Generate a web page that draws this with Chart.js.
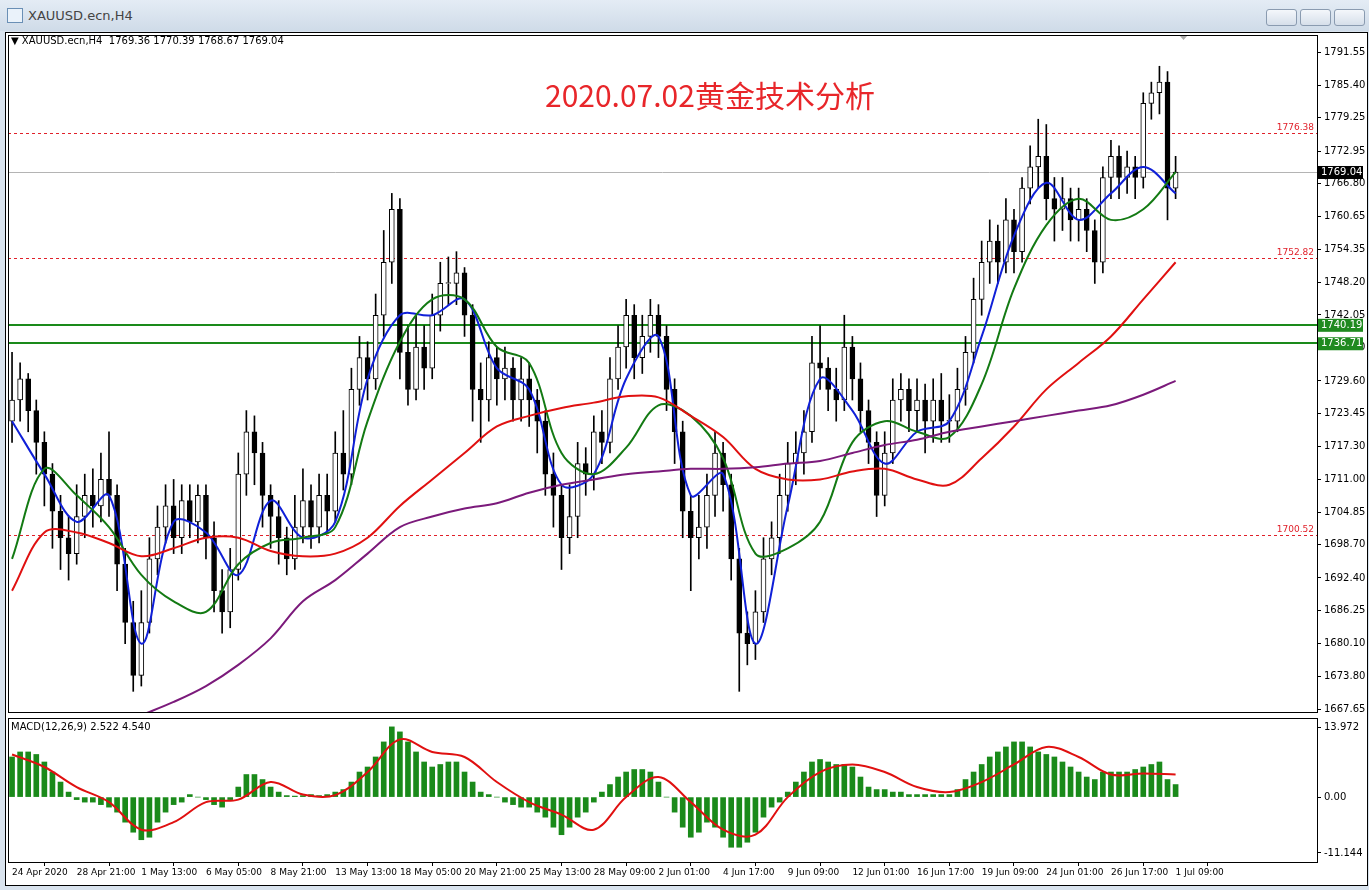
<!DOCTYPE html>
<html><head><meta charset="utf-8">
<script src="https://cdn.jsdelivr.net/npm/chart.js@4.4.1/dist/chart.umd.min.js"></script>
<style>
body{margin:0;width:1369px;height:890px;overflow:hidden;background:#d9e3ee;font-family:Tahoma,"DejaVu Sans",sans-serif;position:relative}
#bar{position:absolute;left:0;top:0;width:1369px;height:31px;background:linear-gradient(#e4ecf5,#cfdbe8)}
#ttl{position:absolute;left:28px;top:8px;font-size:13px;color:#444}
#ico{position:absolute;left:7px;top:8px;width:14px;height:13px;border:1px solid #6a8fb5;background:#eaf2fa}
.btn{position:absolute;top:9px;width:29px;height:15px;border:1px solid #8a9bb0;border-radius:3px;background:linear-gradient(#f4f7fb,#d6dfea)}
#frame{position:absolute;left:5px;top:32px;width:1361px;height:852px;background:#fff;border:1px solid #000}
canvas{position:absolute;left:0}
#title{position:absolute;left:545px;top:72px;font-size:30px;color:#e8262a;font-family:"Noto Sans CJK SC","Noto Sans",sans-serif}
.lbl{position:absolute;font-size:10px;color:#000;font-family:Tahoma,"DejaVu Sans",sans-serif}
</style></head><body>
<div id="bar"><div id="ico"></div><div id="ttl">XAUUSD.ecn,H4</div>
<div class="btn" style="left:1266px"></div><div class="btn" style="left:1300px"></div><div class="btn" style="left:1334px"></div></div>
<div id="frame"></div>
<canvas id="main" width="1369" height="721" style="top:0"></canvas>
<canvas id="macd" width="1369" height="175" style="top:709px"></canvas>
<div class="lbl" style="left:11px;top:35px">▼ XAUUSD.ecn,H4&nbsp; 1769.36 1770.39 1768.67 1769.04</div>
<div class="lbl" style="left:11px;top:721px">MACD(12,26,9) 2.522 4.540</div>
<div id="title">2020.07.02黄金技术分析</div>
<script>
const closes=[1726,1730,1724,1718,1712,1705,1700,1697,1704,1708,1706,1711,1708,1695,1684,1674,1684,1696,1702,1706,1700,1707,1703,1708,1700,1690,1686,1694,1712,1720,1716,1708,1704,1700,1696,1702,1707,1702,1708,1705,1716,1712,1728,1734,1730,1742,1752,1762,1735,1728,1736,1732,1742,1748,1748,1750,1742,1728,1726,1734,1730,1732,1726,1730,1726,1722,1712,1708,1700,1704,1714,1712,1720,1718,1730,1736,1742,1734,1738,1742,1738,1728,1720,1705,1700,1702,1708,1716,1710,1696,1682,1680,1686,1696,1700,1708,1714,1716,1720,1733,1732,1728,1726,1736,1730,1724,1718,1708,1716,1726,1728,1724,1726,1722,1726,1722,1722,1728,1735,1745,1752,1756,1752,1760,1754,1766,1770,1772,1764,1762,1764,1760,1762,1758,1752,1768,1772,1768,1770,1768,1782,1784,1786,1766,1769];
const firstOpen=1722;
const highs=[1735,1733,1731,1726,1720,1714,1708,1704,1710,1712,1713,1716,1720,1710,1698,1688,1690,1700,1706,1710,1711,1710,1710,1710,1710,1703,1694,1698,1716,1724,1723,1718,1710,1707,1702,1708,1713,1710,1712,1712,1720,1724,1732,1738,1737,1746,1758,1765,1764,1740,1742,1740,1746,1752,1753,1754,1751,1744,1733,1737,1736,1736,1734,1734,1733,1728,1724,1716,1710,1710,1718,1717,1723,1724,1734,1740,1745,1744,1742,1745,1744,1740,1730,1722,1708,1708,1712,1720,1718,1712,1698,1686,1690,1700,1703,1712,1718,1720,1724,1738,1740,1734,1732,1742,1738,1733,1726,1720,1720,1730,1731,1730,1730,1729,1730,1731,1727,1732,1738,1749,1756,1760,1759,1764,1762,1768,1774,1779,1778,1768,1768,1766,1766,1764,1760,1770,1775,1774,1773,1772,1784,1786,1789,1788,1772];
const lows=[1718,1722,1720,1712,1706,1698,1694,1692,1695,1700,1702,1703,1704,1690,1680,1671,1672,1682,1693,1699,1697,1697,1700,1699,1696,1686,1682,1683,1692,1708,1710,1702,1698,1695,1693,1694,1699,1698,1699,1701,1703,1709,1710,1725,1726,1728,1738,1748,1730,1725,1726,1728,1730,1739,1744,1744,1738,1722,1718,1722,1725,1726,1722,1722,1721,1716,1708,1702,1694,1697,1700,1708,1709,1714,1716,1728,1732,1730,1731,1735,1734,1724,1714,1700,1690,1696,1698,1704,1705,1692,1671,1676,1677,1684,1693,1697,1705,1710,1712,1718,1728,1724,1722,1724,1726,1720,1714,1704,1706,1714,1722,1720,1720,1716,1718,1718,1718,1720,1725,1733,1742,1748,1748,1750,1750,1752,1763,1766,1760,1756,1758,1756,1756,1754,1748,1750,1764,1764,1765,1764,1766,1779,1780,1760,1764];
const maIdx=[0,4,8,12,16,20,24,28,32,36,40,44,48,52,56,60,64,68,72,76,80,84,88,92,96,100,104,108,112,116,120,124,128,132,136,140,144];
const maBlue=[1722,1712,1703,1708,1680,1703,1701,1693,1707,1700,1703,1730,1742,1742,1745,1732,1728,1710,1712,1730,1738,1708,1712,1680,1706,1730,1724,1714,1720,1722,1738,1757,1767,1760,1765,1770,1765];
const maGreen=[1696,1713,1708,1702,1693,1688,1686,1695,1699,1700,1702,1722,1737,1745,1745,1736,1733,1716,1712,1717,1725,1723,1715,1697,1698,1703,1718,1722,1720,1719,1729,1747,1759,1764,1760,1762,1769];
const maRed=[1690,1701,1701,1699,1696.5,1698,1700,1700,1697.5,1696.5,1697,1700,1706,1711,1716,1721,1723,1724.5,1725.5,1726.7,1726.5,1723,1719,1713,1711,1711,1712.5,1713,1711,1710,1715,1721,1728,1733,1738,1745,1752];
const maPurple=[null,null,null,null,1666.5,1669,1672,1676,1681,1688,1692,1697,1702,1704,1705.5,1706.5,1708.5,1710,1711,1712,1712.5,1713,1713,1713.3,1714,1714.5,1716,1717.5,1718.5,1720,1721,1722,1723,1724,1725,1727,1729.6];
const macdHist=[8,9,9,8.5,7,5,3,1,-0.5,-1,-1,-1.5,-2,-3,-5,-7,-8.5,-8,-5,-3,-1.5,-1,0.5,0,-0.5,-1.5,-2,-0.5,2,4.5,4.5,3.5,2,1,0.3,0.2,0.3,0.5,0.3,0.5,1,1.5,3,5,6,8,11,14,13,11,9,7,6,6.5,7,7,5,3,1,0.5,0,-1,-1.5,-2,-2,-3,-4,-6,-7.5,-6,-4,-3,-1,1,2.5,4,5,5.5,5.5,5,3,0,-3,-6,-8,-7,-5,-6,-8,-10,-10,-9,-7,-4,-2,-1,1,3,5,7,7.5,7,6.5,6.5,6,4,2,1.5,1.5,1,1,0.5,0.5,0.5,0.5,0.5,0.5,1.5,3.5,5,6.5,8,9,10,11,11,10,9,8.5,8,7,6,5,4,3.5,5,5,5,5,5.5,6,6.5,7,3.5,2.5];
const macdSignal=[8.5,6,2,-1,-6.5,-5,-1,-0.5,3,0.5,0.4,5,11.5,9,8,3,-1,-3.5,-6.5,0,4,-1,-6.5,-7.5,0,5,6.5,5,2,1,3,6.5,10,8,4.5,4.7,4.5];
const priceTicks=[1791.55,1785.40,1779.25,1772.95,1766.80,1760.65,1754.35,1748.20,1742.05,1735.90,1729.60,1723.45,1717.30,1711.00,1704.85,1698.70,1692.40,1686.25,1680.10,1673.80,1667.65];
const redLevels=[1776.38,1752.82,1700.52];
const greenLevels=[1740.19,1736.71];
const lastPrice=1769.04;
const macdTicks=[13.972,0,-11.144];
const macdTickLabels=["13.972","0.00","-11.144"];
const xTickIdx=[0,8,16,24,32,40,48,56,64,72,80,88,96,104,112,120,128,136,144];
const xTickLabels=["24 Apr 2020","28 Apr 21:00","1 May 13:00","6 May 05:00","8 May 21:00","13 May 13:00","18 May 05:00","20 May 21:00","25 May 13:00","28 May 09:00","2 Jun 01:00","4 Jun 17:00","9 Jun 09:00","12 Jun 01:00","16 Jun 17:00","19 Jun 09:00","24 Jun 01:00","26 Jun 17:00","1 Jul 09:00"];

const opens=closes.map((c,i)=>i===0?firstOpen:closes[i-1]);
const XMIN=-0.5,XMAX=161.5;
const frame={id:'frame',afterDraw(c){const a=c.chartArea,x=c.ctx;x.save();x.strokeStyle='#000';x.lineWidth=1;x.strokeRect(a.left+0.5,a.top+0.5,a.right-a.left,a.bottom-a.top);x.restore();}};
const font={family:'Tahoma, "DejaVu Sans", sans-serif',size:10};
const xfont={family:'Tahoma, "DejaVu Sans", sans-serif',size:9};

const levels={id:'levels',beforeDatasetsDraw(c){const x=c.ctx,a=c.chartArea,y=c.scales.y;x.save();
 x.strokeStyle='#b4b4b4';x.lineWidth=1;let p=Math.round(y.getPixelForValue(lastPrice))+0.5;x.beginPath();x.moveTo(a.left,p);x.lineTo(a.right,p);x.stroke();
 x.setLineDash([3,3]);x.strokeStyle='#e0202a';
 redLevels.forEach(v=>{const p=Math.round(y.getPixelForValue(v))+0.5;x.beginPath();x.moveTo(a.left,p);x.lineTo(a.right,p);x.stroke();});
 x.setLineDash([]);x.strokeStyle='#1a8a1a';x.lineWidth=2;
 greenLevels.forEach(v=>{const p=Math.round(y.getPixelForValue(v));x.beginPath();x.moveTo(a.left,p);x.lineTo(a.right,p);x.stroke();});
 x.restore();},
 afterDraw(c){const x=c.ctx,a=c.chartArea,y=c.scales.y;x.save();x.font='9px Tahoma, "DejaVu Sans", sans-serif';x.textAlign='right';x.textBaseline='bottom';x.fillStyle='#e0202a';
 redLevels.forEach(v=>x.fillText(v.toFixed(2),a.right-3,y.getPixelForValue(v)-1));
 x.font='10px Tahoma, "DejaVu Sans", sans-serif';x.textAlign='left';x.textBaseline='middle';
 const box=(v,bg)=>{const p=y.getPixelForValue(v);x.fillStyle=bg;x.fillRect(a.right+1,p-6,45,13);x.fillStyle='#fff';x.fillText(v.toFixed(2),a.right+4,p+0.5);};
 box(lastPrice,'#000');greenLevels.forEach(v=>box(v,'#1f8a1f'));
 x.fillStyle='#aaa';x.beginPath();x.moveTo(1179,35);x.lineTo(1188,35);x.lineTo(1183.5,40);x.fill();
 x.restore();}};

const line=(d,col)=>({type:'line',data:maIdx.map((v,i)=>({x:v,y:d[i]})),borderColor:col,borderWidth:2,pointRadius:0,tension:0.35,spanGaps:true,order:0,clip:0});
new Chart(document.getElementById('main'),{
 data:{datasets:[
  {type:'bar',data:closes.map((c,i)=>({x:i,y:[lows[i],highs[i]]})),backgroundColor:'#000',barThickness:1,grouped:false,order:3},
  {type:'bar',data:closes.map((c,i)=>({x:i,y:[opens[i],c===opens[i]?c+0.15:c]})),backgroundColor:closes.map((c,i)=>c>=opens[i]?'#fff':'#000'),borderColor:'#000',borderWidth:1,borderSkipped:false,barThickness:5,grouped:false,order:2},
  line(maPurple,'#7b1a7b'),line(maRed,'#e01010'),line(maGreen,'#137a13'),line(maBlue,'#1020d8')
 ]},
 options:{responsive:false,animation:false,plugins:{legend:{display:false},tooltip:{enabled:false}},
  layout:{padding:{left:8,top:35,bottom:0,right:0}},
  scales:{
   x:{type:'linear',min:XMIN,max:XMAX,offset:false,display:false},
   y:{position:'right',min:1667.1,max:1794.9,afterFit(s){s.width=52;},afterBuildTicks(s){s.ticks=priceTicks.map(v=>({value:v}));},
    ticks:{font,color:'#000',padding:3,callback:v=>v.toFixed(2)},grid:{drawOnChartArea:false,tickLength:4,color:'#000'},border:{color:'#000'}}
  }},plugins:[levels,frame]});

new Chart(document.getElementById('macd'),{
 data:{datasets:[
  {type:'bar',data:macdHist.map((v,i)=>({x:i,y:v})),backgroundColor:'#1a8a1a',barThickness:5,grouped:false,order:1},
  {type:'line',data:maIdx.map((v,i)=>({x:v,y:macdSignal[i]})),borderColor:'#e01010',borderWidth:2,pointRadius:0,tension:0.35,order:0}
 ]},
 options:{responsive:false,animation:false,plugins:{legend:{display:false},tooltip:{enabled:false}},
  layout:{padding:{left:8,top:2,bottom:0,right:0}},
  scales:{
   x:{type:'linear',min:XMIN,max:XMAX,offset:false,afterFit(s){s.height=22;},afterBuildTicks(s){s.ticks=xTickIdx.map(v=>({value:v}));},
    ticks:{font:xfont,color:'#000',align:'start',maxRotation:0,autoSkip:false,padding:1,callback:v=>xTickLabels[xTickIdx.indexOf(v)]},grid:{drawOnChartArea:false,tickLength:4,color:'#000'},border:{color:'#000'}},
   y:{position:'right',min:-12.94,max:15.77,afterFit(s){s.width=52;},afterBuildTicks(s){s.ticks=macdTicks.map(v=>({value:v}));},
    ticks:{font,color:'#000',padding:3,callback:v=>macdTickLabels[macdTicks.indexOf(v)]},grid:{drawOnChartArea:false,tickLength:4,color:'#000'},border:{color:'#000'}}
  }},plugins:[frame]});
</script></body></html>
